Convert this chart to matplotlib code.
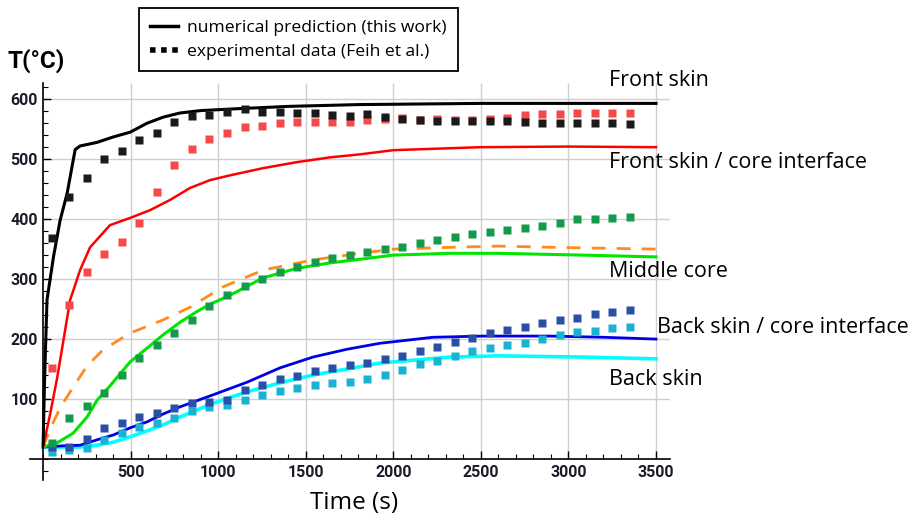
import matplotlib.pyplot as plt
from matplotlib.lines import Line2D
from matplotlib.ticker import MultipleLocator

# experimental data (Feih et al.), sampled every 100 s
t_exp = [50, 150, 250, 350, 450, 550, 650, 750, 850, 950,
         1050, 1150, 1250, 1350, 1450, 1550, 1650, 1750, 1850, 1950,
         2050, 2150, 2250, 2350, 2450, 2550, 2650, 2750, 2850, 2950,
         3050, 3150, 3250, 3350]
front_exp = [368, 437, 468, 500, 513, 532, 543, 562, 572, 573,
             578, 583, 578, 578, 577, 577, 573, 572, 575, 570,
             567, 565, 564, 563, 563, 563, 563, 562, 561, 561,
             560, 560, 560, 558]
front_core_exp = [152, 257, 312, 342, 362, 393, 445, 490, 517, 533,
                  543, 553, 555, 560, 562, 562, 562, 562, 565, 567,
                  568, 565, 567, 566, 566, 567, 569, 574, 576, 576,
                  577, 577, 577, 577]
middle_exp = [27, 68, 88, 110, 140, 168, 190, 210, 232, 255,
              273, 288, 300, 312, 320, 328, 335, 340, 345, 350,
              353, 360, 365, 370, 375, 378, 382, 385, 388, 393,
              400, 400, 402, 403]
back_core_exp = [20, 20, 34, 51, 60, 70, 77, 85, 93, 95,
                 98, 115, 124, 133, 139, 147, 152, 157, 160, 166,
                 172, 180, 187, 195, 201, 210, 215, 220, 226, 232,
                 235, 242, 245, 248]
back_exp = [12, 15, 19, 31, 43, 53, 60, 68, 80, 87,
            90, 98, 106, 113, 119, 124, 126, 128, 133, 140,
            148, 158, 163, 172, 180, 185, 190, 193, 200, 207,
            212, 213, 218, 220]

# numerical prediction (this work)
t_front = [0, 8, 22, 59, 97, 137, 183, 211, 308, 400, 497, 594, 685, 782,
           900, 1100, 1400, 1800, 2500, 3000, 3500]
T_front = [25, 130, 265, 337, 398, 443, 516, 522, 528, 537, 545, 560, 570, 577,
           581, 584, 588, 591, 593, 593, 593]
t_front_core = [0, 40, 80, 120, 154, 211, 268, 382, 497, 611, 725, 839, 953, 1067,
                1256, 1449, 1638, 1809, 2000, 2500, 3000, 3500]
T_front_core = [20, 75, 135, 205, 265, 315, 353, 390, 402, 415, 432, 452, 465, 473,
                485, 495, 503, 508, 515, 520, 521, 520]
t_orange = [0, 40, 100, 183, 250, 342, 497, 685, 839, 1027, 1256, 1541, 1809, 2000,
            2323, 2600, 3082, 3500]
T_orange = [20, 50, 87, 125, 155, 182, 210, 232, 253, 287, 315, 332, 343, 350,
            353, 355, 352, 350]
t_middle = [0, 80, 171, 251, 308, 382, 497, 594, 685, 782, 879, 953, 1067, 1256,
            1449, 1638, 1809, 2000, 2323, 2600, 3082, 3500]
T_middle = [20, 27, 43, 70, 98, 122, 162, 185, 207, 228, 246, 258, 273, 302,
            318, 327, 333, 340, 343, 343, 340, 337]
t_back_core = [0, 114, 211, 308, 400, 497, 594, 685, 782, 970, 1164, 1353, 1541, 1735,
               1924, 2226, 2511, 2894, 3200, 3500]
T_back_core = [20, 22, 23, 32, 40, 52, 62, 75, 87, 107, 128, 152, 170, 183,
               193, 203, 205, 205, 203, 200]
t_back = [0, 211, 308, 400, 497, 594, 685, 782, 970, 1164, 1353, 1541, 1735, 1924,
          2323, 2600, 3082, 3500]
T_back = [20, 20, 23, 28, 37, 47, 57, 70, 93, 112, 127, 140, 150, 160,
          170, 172, 170, 167]

x_ticks = [500, 1000, 1500, 2000, 2500, 3000, 3500]
y_ticks = [100, 200, 300, 400, 500, 600]

xmin, xmax = -75, 3580
ymin, ymax = -35, 627

fig = plt.figure(figsize=(9.09, 5.17), dpi=100)
ax = fig.add_axes([30 / 909, 1 - 480 / 517, 640 / 909, 397 / 517])
ax.set_xlim(xmin, xmax)
ax.set_ylim(ymin, ymax)

# grid (only in the positive quadrant)
ax.hlines(y_ticks, 0, xmax, color='#cfcfcf', lw=1, zorder=0)
ax.vlines(x_ticks, 0, ymax, color='#cfcfcf', lw=1, zorder=0)

# numerical curves
ax.plot(t_orange, T_orange, color='#ff8c1a', lw=2, ls=(0, (5, 4)), zorder=2)
ax.plot(t_back, T_back, color='#00ffff', lw=2.6, zorder=2)
ax.plot(t_back_core, T_back_core, color='#0000e6', lw=2, zorder=2)
ax.plot(t_middle, T_middle, color='#00e600', lw=2.2, zorder=2)
ax.plot(t_front_core, T_front_core, color='#ff0000', lw=1.8, zorder=2)
ax.plot(t_front, T_front, color='black', lw=2.2, zorder=2)

# experimental squares
ms = 6
ax.plot(t_exp, back_exp, 's', color='#1ab2d2', ms=ms, mec='none', zorder=3)
ax.plot(t_exp, back_core_exp, 's', color='#2b4fa6', ms=ms, mec='none', zorder=3)
ax.plot(t_exp, middle_exp, 's', color='#149a4a', ms=ms, mec='none', zorder=3)
ax.plot(t_exp, front_core_exp, 's', color='#f64a4a', ms=ms, mec='none', zorder=3)
ax.plot(t_exp, front_exp, 's', color='#1a1a1a', ms=ms, mec='none', zorder=3)

# axes through the origin
for side in ['top', 'right']:
    ax.spines[side].set_visible(False)
ax.spines['left'].set_position(('data', 0))
ax.spines['bottom'].set_position(('data', 0))
ax.spines['left'].set_linewidth(1.2)
ax.spines['bottom'].set_linewidth(1.2)

ax.set_xticks(x_ticks)
ax.set_yticks(y_ticks)
ax.xaxis.set_minor_locator(MultipleLocator(100))
ax.yaxis.set_minor_locator(MultipleLocator(20))
ax.tick_params(which='major', direction='in', length=6, width=1, pad=4,
               labelsize=11.5, labelcolor='#1b1b2a')
ax.tick_params(which='minor', direction='in', length=3.5, width=0.8)
for lab in ax.get_xticklabels() + ax.get_yticklabels():
    lab.set_fontweight('bold')
    lab.set_family('Roboto')

fig.text(7 / 909, 1 - 61 / 517, 'T(°C)', fontsize=17.5, fontweight='bold',
         family='Roboto', va='center', ha='left')
fig.text(354 / 909, 1 - 503 / 517, 'Time (s)', fontsize=17.5,
         family='Open Sans', va='center', ha='center')

# region labels
lbl = dict(fontsize=15.5, family='Open Sans', va='center', ha='left', clip_on=False)
ax.text(3230, 632, 'Front skin', **lbl)
ax.text(3230, 495, 'Front skin / core interface', **lbl)
ax.text(3230, 313, 'Middle core', **lbl)
ax.text(3505, 220, 'Back skin / core interface', **lbl)
ax.text(3230, 132, 'Back skin', **lbl)

handles = [Line2D([], [], color='black', lw=2.5),
           Line2D([], [], color='black', lw=4, ls=(0, (1, 1)))]
leg = fig.legend(handles, ['numerical prediction (this work)',
                           'experimental data (Feih et al.)'],
                 loc='upper left', bbox_to_anchor=(139 / 909, 1 - 8 / 517),
                 borderaxespad=0,
                 frameon=True, fancybox=False, framealpha=1, edgecolor='black',
                 handlelength=1.6, handletextpad=0.5, borderpad=0.65,
                 labelspacing=0.45, prop={'family': 'Open Sans', 'size': 12.6})
leg.get_frame().set_linewidth(1.3)

plt.savefig('out.png', dpi=100)
